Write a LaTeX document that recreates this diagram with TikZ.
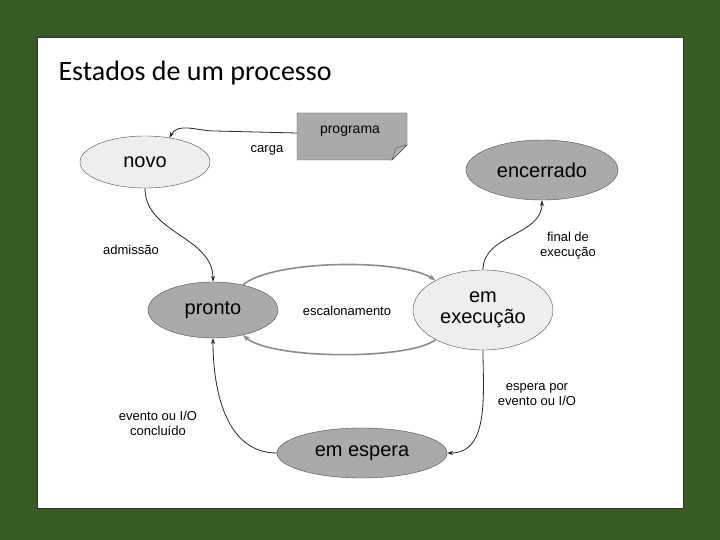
\documentclass[tikz,border=0pt]{standalone}
\usepackage{fontspec}
\setmainfont{Liberation Sans}
\newfontfamily\titlefont{Carlito}
\usetikzlibrary{arrows.meta,shapes.geometric}
\definecolor{frame}{HTML}{3A5A26}
\definecolor{lg}{HTML}{EEEEEE}
\definecolor{dg}{HTML}{AAAAAA}
\begin{document}
\begin{tikzpicture}[x=1pt,y=-1pt,
  st/.style={draw=black!70,ellipse,inner sep=0pt,font=\fontsize{20}{22}\selectfont},
  lab/.style={font=\fontsize{13}{15}\selectfont,align=center},
  arr/.style={-{Stealth[length=6pt,width=4pt]},thick,black!85},
  garr/.style={-{Stealth[length=7pt,width=5pt]},line width=1.6pt,black!45}]
\useasboundingbox (0,0) rectangle (720,540);
\fill[frame] (0,0) rectangle (720,540);
\draw[fill=white,draw=black!80] (37,37) rectangle (683,508);
\node[anchor=west,font=\titlefont\fontsize{28}{30}\selectfont] (title) at (55,73) {Estados de um processo};
\node[st,fill=lg,minimum width=130,minimum height=52] (novo) at (145,162) {novo};
\node[st,fill=dg,minimum width=152,minimum height=60] (enc) at (542,170) {encerrado};
\node[st,fill=dg,minimum width=130,minimum height=56] (pronto) at (213,310) {pronto};
\node[st,fill=lg,minimum width=140,minimum height=80,align=center] (exec) at (483,310) {em\\[-1pt]execução};
\node[st,fill=dg,minimum width=170,minimum height=50] (esp) at (362,453) {em espera};
% programa document
\path[draw=black!70,fill=dg] (297,113) -- (407,113) -- (407,145) -- (392,160) -- (297,160) -- cycle;
\path[draw=black!70,fill=black!30] (407,145) -- (392,160) -- (396,148) -- cycle;
\node[lab,font=\fontsize{14}{16}\selectfont] (prog) at (350,131) {programa};
\coordinate (progw) at (297,133);
\draw[arr] (progw) -- (215,131) to[out=180,in=60] (novo.45);
\node[lab] (carga) at (267,150) {carga};
\draw[arr] (novo.south) to[out=-90,in=90] (pronto.north);
\node[lab] (adm) at (131,250) {admissão};
\draw[garr] (pronto.40) .. controls (272,260) and (400,258) .. (exec.148);
\draw[garr] (exec.212) .. controls (410,360) and (272,360) .. (pronto.-40);
\node[lab] (esc) at (347,311) {escalonamento};
\draw[arr] (exec.north) to[out=90,in=-90] (enc.south);
\node[lab] (fin) at (568,246) {final de\\execução};
\draw[arr] (exec.south) to[out=-90,in=0] (esp.east);
\node[lab] (espr) at (537,395) {espera por\\evento ou I/O};
\draw[arr] (esp.west) to[out=180,in=-90] (pronto.south);
\node[lab] (evt) at (158,423) {evento ou I/O\\concluído};
\end{tikzpicture}
\end{document}
